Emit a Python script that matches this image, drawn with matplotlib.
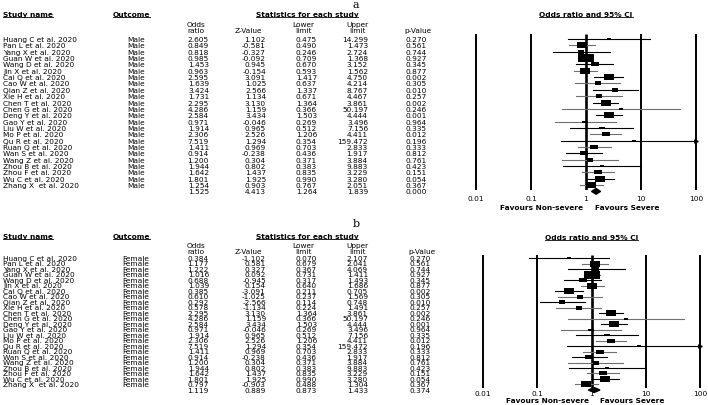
import numpy as np
import matplotlib
matplotlib.use("Agg")
import matplotlib.pyplot as plt

# --- data ---
studies = ["Huang C et al. 2020", "Pan L et al. 2020", "Yang X et al. 2020", "Guan W et al. 2020",
           "Wang D et al. 2020", "Jin X et al. 2020", "Cai Q et al. 2020", "Cao W et al. 2020",
           "Qian Z et al. 2020", "Xie H et al. 2020", "Chen T et al. 2020", "Chen G et al. 2020",
           "Deng Y et al. 2020", "Gao Y et al. 2020", "Liu W et al. 2020", "Mo P et al. 2020",
           "Qu R et al. 2020", "Ruan Q et al. 2020", "Wan S et al. 2020", "Wang Z et al. 2020",
           "Zhou B et al. 2020", "Zhou F et al. 2020", "Wu C et al. 2020", "Zhang X  et al. 2020"]

male_or = [2.605, 0.849, 0.818, 0.985, 1.453, 0.963, 2.595, 1.639, 3.424, 1.731, 2.295, 4.286,
           2.584, 0.971, 1.914, 2.306, 7.519, 1.411, 0.914, 1.200, 1.944, 1.642, 1.801, 1.254]
male_z = [1.102, -0.581, -0.327, -0.092, 0.945, -0.154, 3.091, 1.025, 2.566, 1.134, 3.130, 1.159,
          3.434, -0.046, 0.965, 2.526, 1.294, 0.969, -0.238, 0.304, 0.802, 1.437, 1.925, 0.903]
male_lo = [0.475, 0.490, 0.246, 0.709, 0.670, 0.593, 1.417, 0.637, 1.337, 0.671, 1.364, 0.366,
           1.503, 0.269, 0.512, 1.206, 0.354, 0.703, 0.436, 0.371, 0.383, 0.835, 0.990, 0.767]
male_hi = [14.299, 1.473, 2.724, 1.368, 3.152, 1.562, 4.750, 4.214, 8.767, 4.467, 3.861, 50.197,
           4.444, 3.496, 7.156, 4.411, 159.472, 2.833, 1.917, 3.884, 9.883, 3.229, 3.280, 2.051]
male_p = [0.270, 0.561, 0.744, 0.927, 0.345, 0.877, 0.002, 0.305, 0.010, 0.257, 0.002, 0.246,
          0.001, 0.964, 0.335, 0.012, 0.196, 0.333, 0.812, 0.761, 0.423, 0.151, 0.054, 0.367]
male_total = [1.525, 4.413, 1.264, 1.839, 0.000]

female_or = [0.384, 1.177, 1.222, 1.016, 0.688, 1.039, 0.385, 0.610, 0.292, 0.578, 2.295, 4.286,
             2.584, 0.971, 1.914, 2.306, 7.519, 1.411, 0.914, 1.200, 1.944, 1.642, 1.801, 0.797]
female_z = [-1.102, 0.581, 0.327, 0.092, -0.945, 0.154, -3.091, -1.025, -2.566, -1.134, 3.130, 1.159,
            3.434, -0.046, 0.965, 2.526, 1.294, 0.969, -0.238, 0.304, 0.802, 1.437, 1.925, -0.903]
female_lo = [0.070, 0.679, 0.367, 0.731, 0.317, 0.640, 0.211, 0.237, 0.114, 0.224, 1.364, 0.366,
             1.503, 0.269, 0.512, 1.206, 0.354, 0.703, 0.436, 0.371, 0.383, 0.835, 0.990, 0.488]
female_hi = [2.107, 2.041, 4.069, 1.411, 1.493, 1.686, 0.705, 1.569, 0.748, 1.491, 3.861, 50.197,
             4.444, 3.496, 7.156, 4.411, 159.472, 2.833, 1.917, 3.884, 9.883, 3.229, 3.280, 1.304]
female_p = [0.270, 0.561, 0.744, 0.927, 0.345, 0.877, 0.002, 0.305, 0.010, 0.257, 0.002, 0.246,
            0.001, 0.964, 0.335, 0.012, 0.196, 0.333, 0.812, 0.761, 0.423, 0.151, 0.054, 0.367]
female_total = [1.119, 0.889, 0.873, 1.433, 0.374]

tick_vals = [0.01, 0.1, 1, 10, 100]
tick_labels = ["0.01", "0.1", "1", "10", "100"]

W, H = 708, 406
FS = 5.3
plt.rcParams['font.family'] = ['DejaVu Sans']

fig = plt.figure(figsize=(W / 100, H / 100), dpi=100)
bg = fig.add_axes([0, 0, 1, 1])
bg.set_xlim(0, W)
bg.set_ylim(H, 0)
bg.axis("off")

headers = []  # texts that get underlined
box = [(-1, -0.55), (1, -0.55), (1, 0.55), (-1, 0.55), (-1, -0.55)]


def table(label, label_y, outcome, top, row_h, odds, z, lo, hi, p, total, hdr, pcol):
    y0, y1, y2 = hdr
    bg.text(356, label_y, label, family="DejaVu Serif", fontsize=8, ha="center", va="center")
    for x, s, ha in [(3, "Study name", "left"), (113, "Outcome", "left"),
                     (307, "Statistics for each study", "center")]:
        headers.append(bg.text(x, y0, s, fontsize=FS, fontweight="bold", ha=ha, va="center"))
    for x, a, b in [(196, "Odds", "ratio"), (303, "Lower", "limit"), (357, "Upper", "limit")]:
        bg.text(x, y1, a, fontsize=FS, ha="center", va="center")
        bg.text(x, y2, b, fontsize=FS, ha="center", va="center")
    bg.text(248, y2, "Z-Value", fontsize=FS, ha="center", va="center")
    bg.text(pcol - 9, y2, "p-Value", fontsize=FS, ha="center", va="center")
    cols = [209, 266, 317, 368, pcol]
    for i in range(len(studies)):
        y = top + i * row_h
        bg.text(3, y, studies[i], fontsize=FS, va="center")
        bg.text(136, y, outcome, fontsize=FS, ha="center", va="center")
        for x, v in zip(cols, [odds[i], z[i], lo[i], hi[i], p[i]]):
            bg.text(x, y, f"{v:.3f}", fontsize=FS, ha="right", va="center")
    y = top + len(studies) * row_h
    for x, v in zip(cols, total):
        bg.text(x, y, f"{v:.3f}", fontsize=FS, ha="right", va="center")


def forest(px_lo, px_dec, top, row_h, y_top, y_bot, odds, lo, hi, total, title_y, lab_pad, fav_y):
    n = len(odds)
    left = px_lo - 0.15 * px_dec
    width = 4.3 * px_dec
    ax = fig.add_axes([left / W, 1 - y_bot / H, width / W, (y_bot - y_top) / H])
    ax.set_xscale("log")
    ax.set_xlim(10 ** -2.15, 10 ** 2.15)
    ax.set_ylim((y_bot - top) / row_h, (y_top - top) / row_h)
    for s in ax.spines.values():
        s.set_visible(False)
    ax.set_yticks([])
    ax.set_xticks(tick_vals)
    ax.set_xticklabels(tick_labels)
    ax.xaxis.set_minor_locator(matplotlib.ticker.NullLocator())
    ax.tick_params(axis="x", length=0, labelsize=FS, pad=lab_pad)
    ax.patch.set_alpha(0)
    # reference lines at each decade
    for t in tick_vals:
        ax.plot([t, t], [(y_bot - top) / row_h, (y_top - top) / row_h], color="black",
                lw=1.9 if t == 1 else 1.4, solid_capstyle="butt", zorder=1)
    # CI line + weighted box per study
    for i in range(n):
        col = "black" if i % 2 == 0 else "#6f6f6f"
        ax.plot([lo[i], min(hi[i], 100)], [i, i], color=col, lw=0.8, zorder=2)
        if hi[i] > 100:
            ax.plot(100, i, marker=">", ms=2.5, color=col, zorder=2)
        se = (np.log(hi[i]) - np.log(lo[i])) / 3.92
        w_px = 2.0 + 2.2 / se
        ax.plot(odds[i], i, marker=box, ms=w_px * 0.72, color="black", mew=0, zorder=3)
    # pooled estimate
    o, _, l, u, _ = total
    ax.fill([l, o, u, o], [n, n - 0.45, n, n + 0.45], color="black", clip_on=False, zorder=3)
    cx = px_lo + 2 * px_dec
    headers.append(bg.text(cx, title_y, "Odds ratio and 95% CI", fontsize=FS,
                           fontweight="bold", ha="center", va="center"))
    bg.text(cx - 3, fav_y, "Favours Non-severe", fontsize=FS, fontweight="bold", ha="right", va="center")
    bg.text(cx + 9, fav_y, "Favours Severe", fontsize=FS, fontweight="bold", ha="left", va="center")


table("a", 5, "Male", 40, 6.35, male_or, male_z, male_lo, male_hi, male_p, male_total,
      (15, 25, 31), 427)
forest(476, 55, 40, 6.35, 35, 191, male_or, male_lo, male_hi, male_total, 15, 3.5, 208)

table("b", 224, "Female", 259, 5.5, female_or, female_z, female_lo, female_hi, female_p, female_total,
      (237, 246, 252), 431)
forest(483, 54.25, 259, 5.5, 256, 389, female_or, female_lo, female_hi, female_total, 238, 1.5, 401.5)

# underline the bold headers
fig.canvas.draw()
r = fig.canvas.get_renderer()
inv = bg.transData.inverted()
for t in headers:
    bb = t.get_window_extent(r)
    (x0, yb), (x1, _) = inv.transform([(bb.x0, bb.y0), (bb.x1, bb.y1)])
    bg.plot([x0, x1], [yb - 0.2, yb - 0.2], color="black", lw=0.6)

fig.savefig("out.png", dpi=100)
